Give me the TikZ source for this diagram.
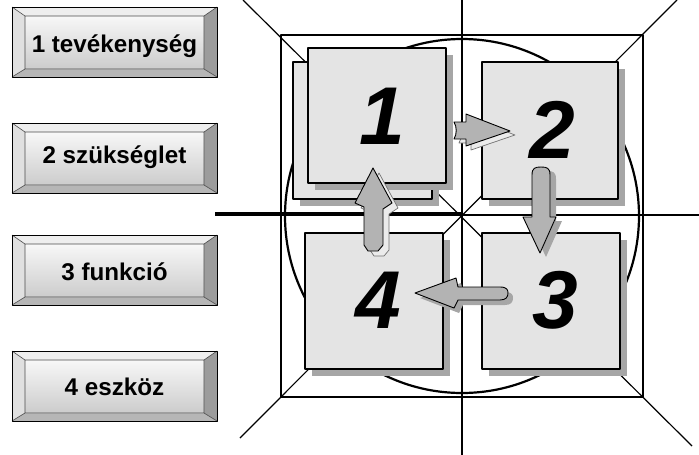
\documentclass[tikz,border=0pt]{standalone}
\usepackage{fontspec}
\setmainfont{Liberation Sans}
\usetikzlibrary{shadows}
\definecolor{boxfill}{HTML}{E4E4E4}
\definecolor{shadowgray}{HTML}{A6A6A6}
\definecolor{arrowfill}{HTML}{B3B3B3}
\definecolor{bevtop}{HTML}{EEEEEE}
\definecolor{bevleft}{HTML}{E0E0E0}
\definecolor{bevright}{HTML}{9C9C9C}
\definecolor{bevbottom}{HTML}{B6B6B6}
\tikzset{
  thinl/.style={line width=1.2pt},
  sq/.style={draw, line width=2.7pt, fill=boxfill, inner sep=0pt,
    drop shadow={shadow xshift=7pt, shadow yshift=-7pt, fill=shadowgray, opacity=1}},
  num/.style={inner sep=0pt, font=\fontsize{82}{82}\selectfont\bfseries\itshape},
  btntext/.style={inner sep=0pt, font=\fontsize{24.2}{24}\selectfont\bfseries},
  arrowmain/.style={fill=arrowfill, draw=black, line width=0.9pt},
  shdark/.style={fill=shadowgray, draw=none},
  shlight/.style={fill=black!8, draw=black!55, line width=0.7pt},
}
\newcommand\mybtn[5]{% name, top, bottom, baseline, text
  \fill[bevtop] (12,#2) -- (217,#2) -- (204,#2+9) -- (25,#2+9) -- cycle;
  \fill[bevleft] (12,#2) -- (25,#2+9) -- (25,#3-8) -- (12,#3) -- cycle;
  \fill[bevright] (217,#2) -- (217,#3) -- (204,#3-8) -- (204,#2+9) -- cycle;
  \fill[bevbottom] (12,#3) -- (25,#3-8) -- (204,#3-8) -- (217,#3) -- cycle;
  \shade[top color=black!3, bottom color=black!20] (25,#2+9) rectangle (204,#3-8);
  \draw[line width=0.6pt, black!70] (25,#2+9) rectangle (204,#3-8)
    (12,#2) -- (25,#2+9) (217,#2) -- (204,#2+9) (12,#3) -- (25,#3-8) (217,#3) -- (204,#3-8);
  \draw[line width=0.9pt] (12,#2) rectangle (217,#3);
  \node[btntext, anchor=base] (#1) at (114.5,#4) {#5};
}
\newcommand\arrA[1]{\path[#1] (454,122) .. controls (457,127) and (457,134) .. (454,139) -- (466,139) -- (466,146) -- (510,131) -- (466,114) -- (466,122) -- cycle;}
\newcommand\arrB[1]{\path[#1] (532,217) -- (532,175) .. controls (532,168) and (535,167) .. (541,167) .. controls (547,167) and (550,168) .. (550,175) -- (550,217) -- (556,217) -- (540,253) -- (523,217) -- cycle;}
\newcommand\arrC[1]{\path[#1] (415,293) -- (456,278) -- (458,287) -- (500,287) .. controls (507,287) and (508,290) .. (508,293) .. controls (508,297) and (506,300) .. (500,300) -- (458,300) -- (454,308) -- cycle;}
\newcommand\arrD[1]{\path[#1] (373,168) -- (392,203) -- (383,209) -- (383,245) -- (378,251) -- (368,251) -- (364,245) -- (364,207) -- (355,203) -- cycle;}
\begin{document}
\begin{tikzpicture}[x=1pt,y=-1pt,line join=round]
\useasboundingbox (0,0) rectangle (699,455);
% buttons
\mybtn{t1}{7}{77}{52}{1 tevékenység}
\mybtn{t2}{123}{193}{163}{2 szükséglet}
\mybtn{t3}{235}{305}{280}{3 funkció}
\mybtn{t4}{351}{421}{395}{4 eszköz}
% frame lines
\draw[thinl] (462,0) -- (462,455);
\draw[thinl] (243,0) -- (692,446);
\draw[thinl] (677,0) -- (240,438);
\draw[thinl] (462,215) -- (699,215);
\draw[line width=4.5pt] (215,214) -- (462,214);
\draw[line width=2.2pt] (462,216) circle (177pt);
\draw[line width=2.5pt] (281,35) rectangle (643,397);
% boxes
\node[sq, minimum width=139pt, minimum height=137pt] (b0) at (362.5,130.5) {};
\node[sq, minimum width=138pt, minimum height=135pt] (b1) at (377,115.5) {};
\node[sq, minimum width=136pt, minimum height=137pt] (b2) at (550,130.5) {};
\node[sq, minimum width=138pt, minimum height=136pt] (b4) at (374,301) {};
\node[sq, minimum width=138pt, minimum height=136pt] (b3) at (551,301) {};
\node[num] (n1) at (382,116) {1};
\node[num] (n2) at (552,130) {2};
\node[num] (n3) at (555,300) {3};
\node[num] (n4) at (378,300) {4};
% arrows
\begin{scope}[shift={(5,4)}]\arrA{shlight}\end{scope}
\arrA{arrowmain}
\begin{scope}[shift={(6,4)}]\arrB{shdark}\end{scope}
\arrB{arrowmain}
\begin{scope}[shift={(5,5)}]\arrC{shdark}\end{scope}
\arrC{arrowmain}
\begin{scope}[shift={(6,5)}]\arrD{shlight}\end{scope}
\arrD{arrowmain}
\end{tikzpicture}
\end{document}
